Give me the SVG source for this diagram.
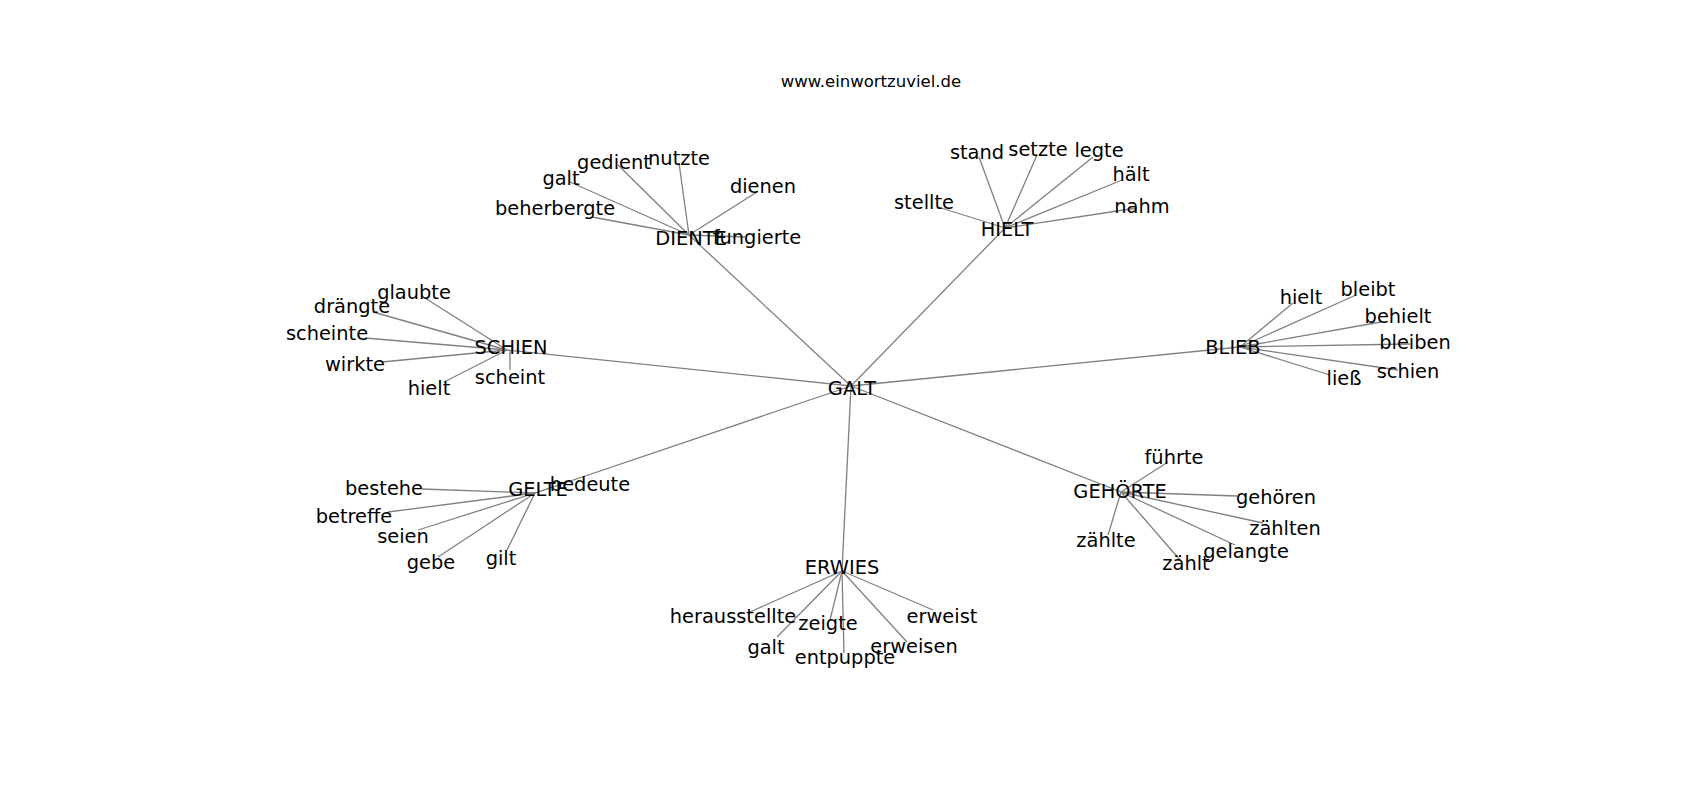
<svg xmlns="http://www.w3.org/2000/svg" width="1700" height="800" viewBox="0 0 1700 800">
<style>
.e{stroke:#808080;stroke-width:1.3;fill:none}
.l{font-family:"DejaVu Sans",sans-serif;font-size:19.4px;fill:#000;text-anchor:middle}
.t{font-family:"DejaVu Sans",sans-serif;font-size:16.5px;fill:#000;text-anchor:middle}
</style>
<rect width="1700" height="800" fill="#fff"/>
<text class="t" x="871" y="86.5">www.einwortzuviel.de</text>
<g id="edges">
<line class="e" x1="851" y1="386" x2="689" y2="235"/>
<line class="e" x1="851" y1="386" x2="1005" y2="228"/>
<line class="e" x1="851" y1="386" x2="507" y2="350"/>
<line class="e" x1="851" y1="386" x2="1240" y2="347"/>
<line class="e" x1="851" y1="386" x2="535" y2="493"/>
<line class="e" x1="851" y1="386" x2="842" y2="571"/>
<line class="e" x1="851" y1="386" x2="1121" y2="492"/>
<line class="e" x1="689" y1="235" x2="592" y2="217"/>
<line class="e" x1="689" y1="235" x2="570" y2="182"/>
<line class="e" x1="689" y1="235" x2="618" y2="165"/>
<line class="e" x1="689" y1="235" x2="679" y2="163"/>
<line class="e" x1="689" y1="235" x2="757" y2="192"/>
<line class="e" x1="689" y1="235" x2="745" y2="237"/>
<line class="e" x1="1005" y1="228" x2="979" y2="157"/>
<line class="e" x1="1005" y1="228" x2="1037" y2="155"/>
<line class="e" x1="1005" y1="228" x2="1093" y2="157"/>
<line class="e" x1="1005" y1="228" x2="1122" y2="180"/>
<line class="e" x1="1005" y1="228" x2="1137" y2="208"/>
<line class="e" x1="1005" y1="228" x2="938" y2="207"/>
<line class="e" x1="507" y1="350" x2="425" y2="298"/>
<line class="e" x1="507" y1="350" x2="373" y2="312"/>
<line class="e" x1="507" y1="350" x2="365" y2="338"/>
<line class="e" x1="507" y1="350" x2="382" y2="362"/>
<line class="e" x1="507" y1="350" x2="444" y2="382"/>
<line class="e" x1="510" y1="350" x2="510" y2="370"/>
<line class="e" x1="1240" y1="347" x2="1293" y2="303"/>
<line class="e" x1="1240" y1="347" x2="1356" y2="295"/>
<line class="e" x1="1240" y1="347" x2="1381" y2="322"/>
<line class="e" x1="1240" y1="347" x2="1410" y2="344"/>
<line class="e" x1="1240" y1="347" x2="1398" y2="370"/>
<line class="e" x1="1240" y1="347" x2="1330" y2="375"/>
<line class="e" x1="535" y1="493" x2="422" y2="489"/>
<line class="e" x1="535" y1="493" x2="388" y2="512"/>
<line class="e" x1="535" y1="493" x2="418" y2="530"/>
<line class="e" x1="535" y1="493" x2="438" y2="557"/>
<line class="e" x1="535" y1="493" x2="507" y2="550"/>
<line class="e" x1="535" y1="493" x2="553" y2="487"/>
<line class="e" x1="842" y1="571" x2="750" y2="612"/>
<line class="e" x1="842" y1="571" x2="830" y2="620"/>
<line class="e" x1="842" y1="571" x2="933" y2="610"/>
<line class="e" x1="842" y1="571" x2="777" y2="637"/>
<line class="e" x1="842" y1="571" x2="844" y2="653"/>
<line class="e" x1="842" y1="571" x2="907" y2="642"/>
<line class="e" x1="1121" y1="492" x2="1168" y2="462"/>
<line class="e" x1="1121" y1="492" x2="1237" y2="496"/>
<line class="e" x1="1121" y1="492" x2="1263" y2="523"/>
<line class="e" x1="1121" y1="492" x2="1235" y2="545"/>
<line class="e" x1="1121" y1="492" x2="1180" y2="560"/>
<line class="e" x1="1121" y1="492" x2="1108" y2="535"/>
</g>
<g id="n-galt"><text class="l" x="852" y="395">GALT</text></g>
<g id="n-diente"><text class="l" x="691" y="245">DIENTE</text></g>
<g id="n-hielt"><text class="l" x="1007" y="236">HIELT</text></g>
<g id="n-schien"><text class="l" x="511" y="354">SCHIEN</text></g>
<g id="n-blieb"><text class="l" x="1233" y="354">BLIEB</text></g>
<g id="n-gelte"><text class="l" x="538" y="496">GELTE</text></g>
<g id="n-erwies"><text class="l" x="842" y="574">ERWIES</text></g>
<g id="n-gehoerte"><text class="l" x="1120" y="498">GEHÖRTE</text></g>
<g id="n-beherbergte"><text class="l" x="555" y="215">beherbergte</text></g>
<g id="n-galt-d"><text class="l" x="561" y="185">galt</text></g>
<g id="n-gedient"><text class="l" x="614" y="169">gedient</text></g>
<g id="n-nutzte"><text class="l" x="679" y="165">nutzte</text></g>
<g id="n-dienen"><text class="l" x="763" y="193">dienen</text></g>
<g id="n-fungierte"><text class="l" x="757" y="244">fungierte</text></g>
<g id="n-stand"><text class="l" x="977" y="159">stand</text></g>
<g id="n-setzte"><text class="l" x="1038" y="156">setzte</text></g>
<g id="n-legte"><text class="l" x="1099" y="157">legte</text></g>
<g id="n-haelt"><text class="l" x="1131" y="181">hält</text></g>
<g id="n-nahm"><text class="l" x="1142" y="213">nahm</text></g>
<g id="n-stellte"><text class="l" x="924" y="209">stellte</text></g>
<g id="n-glaubte"><text class="l" x="414" y="299">glaubte</text></g>
<g id="n-draengte"><text class="l" x="352" y="313">drängte</text></g>
<g id="n-scheinte"><text class="l" x="327" y="340">scheinte</text></g>
<g id="n-wirkte"><text class="l" x="355" y="371">wirkte</text></g>
<g id="n-hielt-s"><text class="l" x="429" y="395">hielt</text></g>
<g id="n-scheint"><text class="l" x="510" y="384">scheint</text></g>
<g id="n-hielt-b"><text class="l" x="1301" y="304">hielt</text></g>
<g id="n-bleibt"><text class="l" x="1368" y="296">bleibt</text></g>
<g id="n-behielt"><text class="l" x="1398" y="323">behielt</text></g>
<g id="n-bleiben"><text class="l" x="1415" y="349">bleiben</text></g>
<g id="n-schien-b"><text class="l" x="1408" y="378">schien</text></g>
<g id="n-liess"><text class="l" x="1344" y="385">ließ</text></g>
<g id="n-bestehe"><text class="l" x="384" y="495">bestehe</text></g>
<g id="n-betreffe"><text class="l" x="354" y="523">betreffe</text></g>
<g id="n-seien"><text class="l" x="403" y="543">seien</text></g>
<g id="n-gebe"><text class="l" x="431" y="569">gebe</text></g>
<g id="n-gilt"><text class="l" x="501" y="565">gilt</text></g>
<g id="n-bedeute"><text class="l" x="590" y="491">bedeute</text></g>
<g id="n-herausstellte"><text class="l" x="733" y="623">herausstellte</text></g>
<g id="n-zeigte"><text class="l" x="828" y="630">zeigte</text></g>
<g id="n-erweist"><text class="l" x="942" y="623">erweist</text></g>
<g id="n-galt-e"><text class="l" x="766" y="654">galt</text></g>
<g id="n-entpuppte"><text class="l" x="845" y="664">entpuppte</text></g>
<g id="n-erweisen"><text class="l" x="914" y="653">erweisen</text></g>
<g id="n-fuehrte"><text class="l" x="1174" y="464">führte</text></g>
<g id="n-gehoeren"><text class="l" x="1276" y="504">gehören</text></g>
<g id="n-zaehlten"><text class="l" x="1285" y="535">zählten</text></g>
<g id="n-gelangte"><text class="l" x="1246" y="558">gelangte</text></g>
<g id="n-zaehlt"><text class="l" x="1186" y="570">zählt</text></g>
<g id="n-zaehlte"><text class="l" x="1106" y="547">zählte</text></g>
</svg>
